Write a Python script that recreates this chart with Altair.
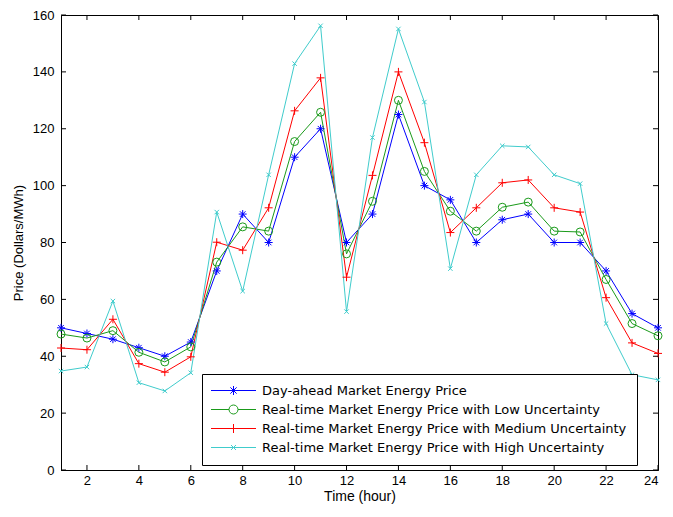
import altair as alt
import pandas as pd

hours = list(range(1, 25))
series_names = [
    "Day-ahead Market Energy Price",
    "Real-time Market Energy Price with Low Uncertainty",
    "Real-time Market Energy Price with Medium Uncertainty",
    "Real-time Market Energy Price with High Uncertainty",
]
day_ahead = [50, 48, 46, 43, 40, 45, 70, 90, 80, 110, 120, 80,
             90, 125, 100, 95, 80, 88, 90, 80, 80, 70, 55, 50]
low_unc = [47.8, 46.4, 49, 41.4, 38, 43.3, 73.1, 85.5, 84, 115.5, 125.8, 76,
           94.5, 130, 105, 91, 84, 92.4, 94.2, 84, 83.7, 67, 51.5, 47.2]
med_unc = [42.9, 42.3, 53, 37.4, 34.4, 39.8, 80.1, 77.3, 92.2, 126.3, 137.9, 67.8,
           103.6, 140, 115.1, 83.5, 92.2, 101, 102, 92.2, 90.7, 60.6, 44.7, 41]
high_unc = [34.8, 36.2, 59.4, 30.7, 27.8, 34.2, 90.7, 62.9, 103.8, 142.9, 156.2, 55.7,
            116.9, 155.1, 129.4, 70.8, 103.8, 114, 113.6, 103.8, 100.7, 51.5, 33.5, 31.7]
x_ticks = list(range(2, 25, 2))
y_ticks = list(range(0, 161, 20))

colors = ["#0000ff", "#1a9a1a", "#ff0000", "#40cccc"]
marker_paths = [
    "M-1,0L1,0M0,-1L0,1M-0.7,-0.7L0.7,0.7M-0.7,0.7L0.7,-0.7",
    "circle",
    "M-1,0L1,0M0,-1L0,1",
    "M-0.55,-0.55L0.55,0.55M-0.55,0.55L0.55,-0.55",
]
legend_paths = [
    "M-5,0L5,0M-1,0L1,0M0,-1L0,1M-0.7,-0.7L0.7,0.7M-0.7,0.7L0.7,-0.7",
    "M-5,0L-1,0M1,0L5,0M-1,0A1,1,0,1,0,1,0A1,1,0,1,0,-1,0",
    "M-5,0L5,0M0,-1L0,1",
    "M-5,0L5,0M-0.55,-0.55L0.55,0.55M-0.55,0.55L0.55,-0.55",
]

all_values = [day_ahead, low_unc, med_unc, high_unc]
rows = []
for name, vals in zip(series_names, all_values):
    for h, v in zip(hours, vals):
        rows.append({"hour": h, "price": v, "series": name})
df = pd.DataFrame(rows)

W, H = 597, 455
FONT = "Liberation Sans"

xscale = alt.Scale(domain=[1, 24], nice=False, zero=False)
yscale = alt.Scale(domain=[0, 160], nice=False)
cscale = alt.Scale(domain=series_names, range=colors)
sscale = alt.Scale(domain=series_names, range=legend_paths)
leg = alt.Legend(orient="none", legendX=141, legendY=359, title=None)

xenc = alt.X("hour:Q", scale=xscale,
             axis=alt.Axis(values=x_ticks, title="Time (hour)", grid=False,
                           tickSize=0, labelPadding=4, titlePadding=2, format="d",
                           titleFontSize=14))
yenc = alt.Y("price:Q", scale=yscale,
             axis=alt.Axis(values=y_ticks, title="Price (Dollars/MWh)", grid=False,
                           tickSize=0, labelPadding=7, titlePadding=7, format="d"))

base = alt.Chart(df)

lines = base.mark_line(strokeWidth=1).encode(
    x=xenc, y=yenc,
    color=alt.Color("series:N", scale=cscale, legend=leg),
    detail="series:N",
)

point_layers = []
for name, col, shp in zip(series_names, colors, marker_paths):
    point_layers.append(
        base.transform_filter(alt.datum.series == name)
        .mark_point(shape=shp, filled=False, size=64, strokeWidth=1, color=col, opacity=1)
        .encode(x=alt.X("hour:Q", scale=xscale), y=alt.Y("price:Q", scale=yscale))
    )

legend_layer = base.transform_filter("datum.hour < 0").mark_point(
    filled=False, strokeWidth=1, opacity=1
).encode(
    x=alt.X("hour:Q", scale=xscale),
    y=alt.Y("price:Q", scale=yscale),
    color=alt.Color("series:N", scale=cscale, legend=leg),
    shape=alt.Shape("series:N", scale=sscale, legend=leg),
)

ytick_df = pd.DataFrame({"v": y_ticks})
xtick_df = pd.DataFrame({"h": x_ticks})
ytk_l = alt.Chart(ytick_df).mark_rule(color="black", strokeWidth=1).encode(
    y=alt.Y("v:Q", scale=yscale), x=alt.value(0), x2=alt.value(5))
ytk_r = alt.Chart(ytick_df).mark_rule(color="black", strokeWidth=1).encode(
    y=alt.Y("v:Q", scale=yscale), x=alt.value(W - 5), x2=alt.value(W))
xtk_b = alt.Chart(xtick_df).mark_rule(color="black", strokeWidth=1).encode(
    x=alt.X("h:Q", scale=xscale), y=alt.value(H - 5), y2=alt.value(H))
xtk_t = alt.Chart(xtick_df).mark_rule(color="black", strokeWidth=1).encode(
    x=alt.X("h:Q", scale=xscale), y=alt.value(0), y2=alt.value(5))

chart = alt.layer(lines, *point_layers, legend_layer, ytk_l, ytk_r, xtk_b, xtk_t).properties(
    width=W, height=H,
    autosize=alt.AutoSizeParams(type="none"),
    padding={"left": 53, "top": 7, "right": 7, "bottom": 38},
).configure_view(
    stroke="black", strokeWidth=1
).configure_axis(
    domainColor="black", labelColor="black", titleColor="black",
    labelFont=FONT, titleFont=FONT, labelFontSize=13, titleFontSize=13,
    titleFontWeight="normal",
).configure_legend(
    labelFont="DejaVu Sans", labelFontSize=13, labelColor="black",
    strokeColor="black", fillColor="white", padding=10,
    symbolSize=81, symbolStrokeWidth=1, symbolOffset=15, labelOffset=22,
    rowPadding=5, cornerRadius=0, labelLimit=500,
)

chart.save("out.html", embed_options={"renderer": "svg", "actions": False})
